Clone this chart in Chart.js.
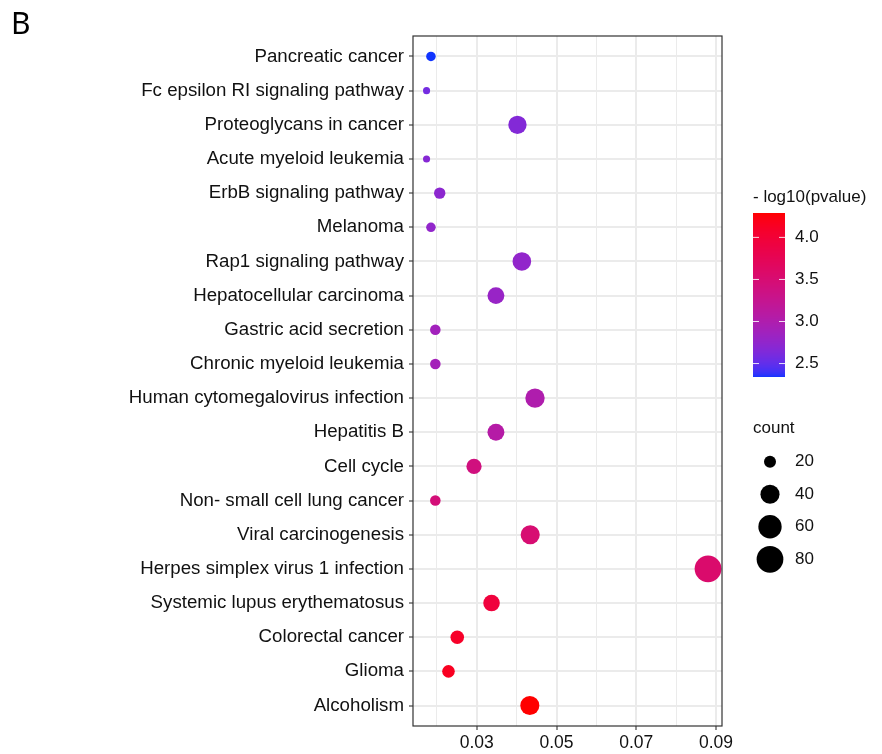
<!DOCTYPE html>
<html>
<head>
<meta charset="utf-8">
<script src="https://cdn.jsdelivr.net/npm/chart.js@4.4.1/dist/chart.umd.min.js"></script>
<style>
  body { margin: 0; background: #fff; }
</style>
</head>
<body>
<canvas id="kegg" width="882" height="754"></canvas>
<script>
	// 경로 이름 (위에서 아래 순서)
	var pathways = [
		'Pancreatic cancer',
		'Fc epsilon RI signaling pathway',
		'Proteoglycans in cancer',
		'Acute myeloid leukemia',
		'ErbB signaling pathway',
		'Melanoma',
		'Rap1 signaling pathway',
		'Hepatocellular carcinoma',
		'Gastric acid secretion',
		'Chronic myeloid leukemia',
		'Human cytomegalovirus infection',
		'Hepatitis B',
		'Cell cycle',
		'Non- small cell lung cancer',
		'Viral carcinogenesis',
		'Herpes simplex virus 1 infection',
		'Systemic lupus erythematosus',
		'Colorectal cancer',
		'Glioma',
		'Alcoholism'
	];
	// x값 (GeneRatio)
	var geneRatio = [0.0185, 0.0174, 0.0402, 0.0174, 0.0207, 0.0185, 0.0413, 0.0348, 0.0196, 0.0196,
		0.0446, 0.0348, 0.0293, 0.0196, 0.0434, 0.0880, 0.0337, 0.0251, 0.0229, 0.0433];
	// 점 크기 (count)
	var counts = [17, 16, 37, 16, 19, 17, 38, 32, 18, 18, 41, 32, 27, 18, 40, 81, 31, 23, 21, 40];
	// 점 색 (-log10 pvalue)
	var logP = [2.34, 2.58, 2.66, 2.68, 2.72, 2.76, 2.76, 2.80, 2.88, 2.90,
		3.00, 3.06, 3.40, 3.45, 3.50, 3.55, 3.95, 4.10, 4.15, 4.29];
	// 축 / 범례 눈금
	var xTicks = [0.03, 0.05, 0.07, 0.09];
	var colorTicks = [2.5, 3.0, 3.5, 4.0];
	var sizeTicks = [20, 40, 60, 80];

	var vmin = Math.min.apply(null, logP);
	var vmax = Math.max.apply(null, logP);

	// rgb <-> Lab (D65)
	function rgb2lab(r, g, b){
		var lin = [r, g, b].map(function(c){
			c /= 255;
			return c > 0.04045 ? Math.pow((c + 0.055)/1.055, 2.4) : c/12.92;
		});
		var X = (0.4124*lin[0] + 0.3576*lin[1] + 0.1805*lin[2]) / 0.95047;
		var Y = (0.2126*lin[0] + 0.7152*lin[1] + 0.0722*lin[2]);
		var Z = (0.0193*lin[0] + 0.1192*lin[1] + 0.9505*lin[2]) / 1.08883;
		function f(u){ return u > 0.008856 ? Math.cbrt(u) : 7.787*u + 16/116; }
		return [116*f(Y) - 16, 500*(f(X) - f(Y)), 200*(f(Y) - f(Z))];
	}
	function lab2rgb(L, A, B){
		var fy = (L+16)/116, fx = fy + A/500, fz = fy - B/200;
		function f(u){ return u*u*u > 0.008856 ? u*u*u : (u - 16/116)/7.787; }
		var X = 0.95047*f(fx), Y = f(fy), Z = 1.08883*f(fz);
		return [
			 3.2406*X - 1.5372*Y - 0.4986*Z,
			-0.9689*X + 1.8758*Y + 0.0415*Z,
			 0.0557*X - 0.2040*Y + 1.0570*Z
		].map(function(c){
			c = c > 0.0031308 ? 1.055*Math.pow(c, 1/2.4) - 0.055 : 12.92*c;
			return Math.round(Math.max(0, Math.min(1, c))*255);
		});
	}
	// blue -> red (Lab 보간)
	var LOW = rgb2lab(16, 52, 255);
	var HIGH = rgb2lab(255, 0, 0);
	function colorOf(v){
		var t = (v - vmin) / (vmax - vmin);
		t = Math.max(0, Math.min(1, t));
		var rgb = lab2rgb(
			LOW[0] + (HIGH[0]-LOW[0])*t,
			LOW[1] + (HIGH[1]-LOW[1])*t,
			LOW[2] + (HIGH[2]-LOW[2])*t
		);
		return 'rgb(' + rgb.join(',') + ')';
	}
	// count -> 지름(px)
	function sizeOf(c){
		return 7.1 + 2.45*Math.sqrt(Math.max(c - 16, 0));
	}

	var FONT = "'Liberation Sans', Arial, sans-serif";
	var TEXT = '#111';

	// 범례, 테두리, 'B' 그리기
	var extras = {
		id: 'extras',
		afterDraw: function(chart){
			var ctx = chart.ctx;
			var a = chart.chartArea;
			ctx.save();
			ctx.strokeStyle = '#333';
			ctx.lineWidth = 1.2;
			ctx.strokeRect(a.left, a.top, a.right - a.left, a.bottom - a.top);

			ctx.fillStyle = '#000';
			ctx.font = "30px 'Noto Sans', sans-serif";
			ctx.textBaseline = 'alphabetic';
			ctx.textAlign = 'left';
			ctx.fillText('B', 11, 34);

			// 색 범례
			ctx.fillStyle = TEXT;
			ctx.font = '17px ' + FONT;
			ctx.textBaseline = 'middle';
			ctx.fillText('- log10(pvalue)', 753, 197);
			var bx = 753, bw = 32, top = 213, bot = 377;
			for (var y = top; y < bot; y++){
				var v = vmax - (y + 0.5 - top) / (bot - top) * (vmax - vmin);
				ctx.fillStyle = colorOf(v);
				ctx.fillRect(bx, y, bw, 1);
			}
			colorTicks.forEach(function(v){
				var ty = bot - (v - vmin) / (vmax - vmin) * (bot - top);
				ctx.strokeStyle = 'rgba(255,255,255,0.85)';
				ctx.lineWidth = 1;
				ctx.beginPath();
				ctx.moveTo(bx, ty); ctx.lineTo(bx + 6, ty);
				ctx.moveTo(bx + bw - 6, ty); ctx.lineTo(bx + bw, ty);
				ctx.stroke();
				ctx.fillStyle = TEXT;
				ctx.fillText(v.toFixed(1), 795, ty);
			});

			// 크기 범례
			ctx.fillText('count', 753, 428);
			var ys = [461.7, 494.3, 526.7, 559.3];
			sizeTicks.forEach(function(c, i){
				ctx.fillStyle = '#000';
				ctx.beginPath();
				ctx.arc(770, ys[i], sizeOf(c)/2, 0, Math.PI*2);
				ctx.fill();
				ctx.fillStyle = TEXT;
				ctx.fillText(String(c), 795, ys[i]);
			});
			ctx.restore();
		}
	};

	function isMajor(v){
		return xTicks.some(function(t){ return Math.abs(t - v) < 1e-6; });
	}

	new Chart(document.getElementById('kegg'), {
		type: 'scatter',
		data: {
			datasets: [{
				label: 'pathway',
				data: pathways.map(function(p, i){ return { x: geneRatio[i], y: i + 1 }; }),
				pointRadius: counts.map(function(c){ return sizeOf(c)/2; }),
				pointHoverRadius: counts.map(function(c){ return sizeOf(c)/2; }),
				pointBackgroundColor: logP.map(colorOf),
				pointBorderWidth: 0,
				borderWidth: 0
			}]
		},
		options: {
			responsive: false,
			animation: false,
			events: [],
			layout: { padding: { top: 36, right: 160, bottom: 0, left: 0 } },
			plugins: {
				legend: { display: false },
				tooltip: { enabled: false }
			},
			scales: {
				x: {
					type: 'linear',
					position: 'bottom',
					min: 0.014,
					max: 0.0915,
					border: { display: false },
					grid: {
						color: '#ebebeb',
						lineWidth: function(c){ return isMajor(c.tick.value) ? 2 : 1; },
						tickColor: function(c){ return isMajor(c.tick.value) ? '#333' : 'rgba(0,0,0,0)'; },
						tickLength: 4,
						tickWidth: 1.1
					},
					ticks: {
						stepSize: 0.01,
						includeBounds: false,
						autoSkip: false,
						maxRotation: 0,
						padding: 3,
						color: TEXT,
						font: { family: FONT, size: 17.5 },
						callback: function(v){ return isMajor(v) ? v.toFixed(2) : ''; }
					},
					afterFit: function(s){ s.height = 28; }
				},
				y: {
					type: 'linear',
					reverse: true,
					min: 0.4,
					max: 20.6,
					border: { display: false },
					grid: {
						color: '#ebebeb',
						lineWidth: 2,
						tickColor: '#333',
						tickLength: 4,
						tickWidth: 1.1
					},
					ticks: {
						stepSize: 1,
						includeBounds: false,
						autoSkip: false,
						padding: 5,
						color: TEXT,
						font: { family: FONT, size: 18.7 },
						callback: function(v){ return pathways[v - 1] || ''; }
					},
					afterFit: function(s){ s.width = 413; }
				}
			}
		},
		plugins: [extras]
	});
</script>
</body>
</html>
